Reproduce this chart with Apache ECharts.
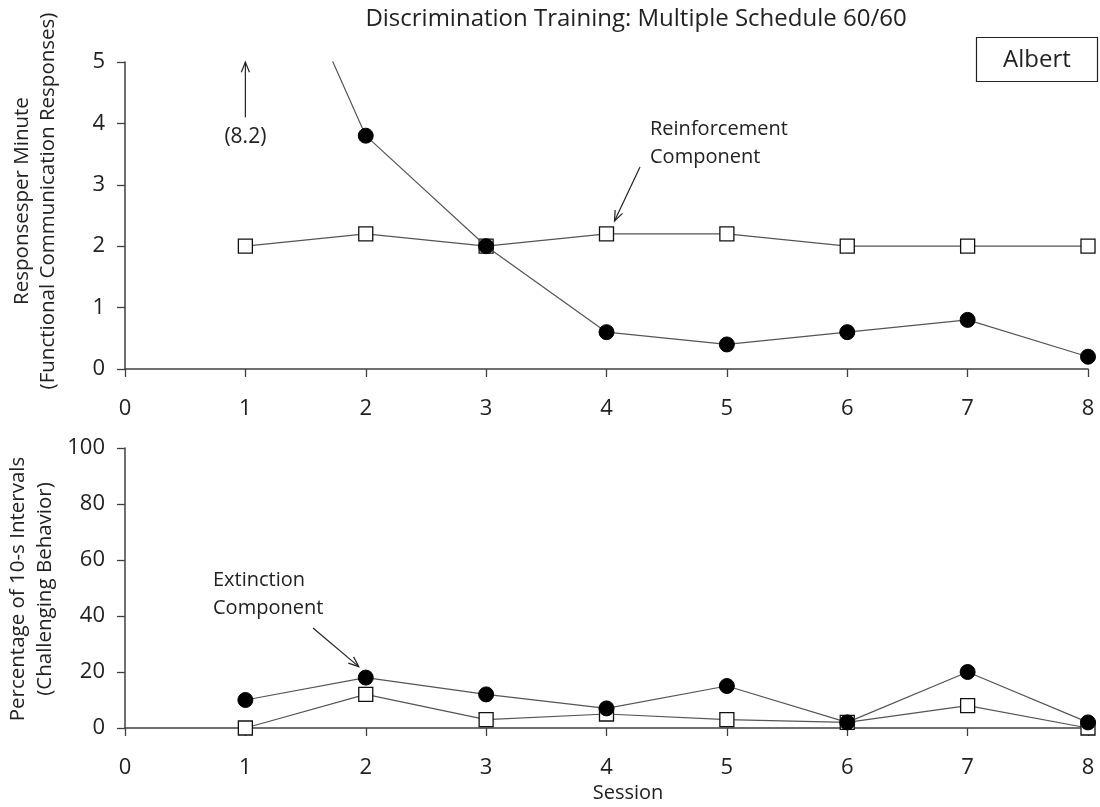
<!DOCTYPE html>
<html><head><meta charset="utf-8">
<script src="https://cdn.jsdelivr.net/npm/echarts@6/dist/echarts.min.js"></script>
<style>html,body{margin:0;padding:0;background:#fff}#c{width:1100px;height:807px}</style>
</head><body><div id="c"></div>
<script>
const sessions = [1,2,3,4,5,6,7,8];
const topCircles = [8.2,3.8,2.0,0.6,0.4,0.6,0.8,0.2];   // Extinction component FCR
const topSquares = [2.0,2.2,2.0,2.2,2.2,2.0,2.0,2.0];   // Reinforcement component FCR
const botCircles = [10,18,12,7,15,2,20,2];
const botSquares = [0,12,3,5,3,2,8,0];
const xTicks = [0,1,2,3,4,5,6,7,8];
const topYTicks = [0,1,2,3,4,5];
const botYTicks = [0,20,40,60,80,100];

const FONT = '"Open Sans", "Noto Sans", sans-serif';
const AX = '#404040';
const LINE = '#555555';

function pairs(xs, ys){ return xs.map((x,i)=>[x, ys[i]]); }

const chart = echarts.init(document.getElementById('c'), null, {renderer:'canvas'});

function xAxis(gi){
  return {gridIndex:gi, type:'value', min:xTicks[0], max:xTicks[xTicks.length-1], interval:1,
    axisLine:{onZero:false, lineStyle:{color:AX, width:1.5}},
    axisTick:{show:true, inside:false, length:8, lineStyle:{color:AX, width:1.3}},
    axisLabel:{fontFamily:FONT, fontSize:22, color:'#222', margin:29},
    splitLine:{show:false}};
}
function yAxis(gi, ticks){
  return {gridIndex:gi, type:'value', min:ticks[0], max:ticks[ticks.length-1], interval:ticks[1]-ticks[0],
    axisLine:{show:true, lineStyle:{color:AX, width:1.5}},
    axisTick:{show:true, length:8, lineStyle:{color:AX, width:1.3}},
    axisLabel:{fontFamily:FONT, fontSize:22, color:'#222', margin:20},
    splitLine:{show:false}};
}
const circleStyle = {symbol:'circle', symbolSize:15, itemStyle:{color:'#000', borderColor:'#000', borderWidth:1}};
const squareStyle = {symbol:'rect', symbolSize:14, itemStyle:{color:'#fff', borderColor:'#111', borderWidth:1.3}};

function lineSeries(xi, yi, data, st, z){
  return Object.assign({type:'line', xAxisIndex:xi, yAxisIndex:yi, data:data, clip:true, z:z,
    lineStyle:{color:LINE, width:1.2}, showAllSymbol:true, animation:false, silent:true}, st);
}

chart.setOption({
  animation:false,
  grid:[
    {left:125, top:62, width:963, height:307},
    {left:125, top:448, width:963, height:280}
  ],
  xAxis:[xAxis(0), xAxis(1)],
  yAxis:[yAxis(0, topYTicks), yAxis(1, botYTicks)],
  series:[
    lineSeries(0,0,pairs(sessions, topSquares), squareStyle, 3),
    lineSeries(0,0,pairs(sessions, topCircles), circleStyle, 4),
    lineSeries(1,1,pairs(sessions, botSquares), squareStyle, 3),
    lineSeries(1,1,pairs(sessions, botCircles), circleStyle, 4)
  ]
});

const p = (gi, x, y) => chart.convertToPixel({gridIndex:gi}, [x, y]);
const txt = (x,y,s,opt) => Object.assign({type:'text', x:x, y:y, style:Object.assign({text:s, fontFamily:FONT, fontSize:20, fill:'#222'}, opt||{})});
function arrow(x1,y1,x2,y2){
  const a = Math.atan2(y2-y1, x2-x1), L=11, w=0.38;
  return [
    {type:'line', shape:{x1:x1,y1:y1,x2:x2,y2:y2}, style:{stroke:'#222', lineWidth:1.2}},
    {type:'polyline', shape:{points:[[x2-L*Math.cos(a-w), y2-L*Math.sin(a-w)],[x2,y2],[x2-L*Math.cos(a+w), y2-L*Math.sin(a+w)]]}, style:{stroke:'#222', lineWidth:1.2, fill:null}}
  ];
}
const a1top = p(0, 1, 5), a1bot = p(0, 1, 4.1);
const rc = p(0, 4, 2.2);
const ec = p(1, 2, 18);
const g = [
  txt(636, 19, 'Discrimination Training: Multiple Schedule 60/60', {align:'center', verticalAlign:'middle', fontSize:24}),
  {type:'rect', shape:{x:976.5, y:37.5, width:121, height:44}, style:{fill:'#fff', stroke:'#222', lineWidth:1.2}},
  txt(1037, 60, 'Albert', {align:'center', verticalAlign:'middle', fontSize:24}),
  ...arrow(a1bot[0], a1bot[1], a1top[0], a1top[1]),
  txt(a1top[0], 137, '(8.2)', {align:'center', verticalAlign:'middle', fontSize:21}),
  txt(650, 129, 'Reinforcement', {align:'left', verticalAlign:'middle'}),
  txt(650, 157, 'Component', {align:'left', verticalAlign:'middle'}),
  ...arrow(640, 167, rc[0]+8, rc[1]-13),
  txt(213, 580, 'Extinction', {align:'left', verticalAlign:'middle'}),
  txt(213, 608, 'Component', {align:'left', verticalAlign:'middle'}),
  ...arrow(313, 628, ec[0]-7, ec[1]-11),
  txt(22, 201, 'Responsesper Minute', {align:'center', verticalAlign:'middle', fontSize:20.5}),
  txt(48, 201, '(Functional Communication Responses)', {align:'center', verticalAlign:'middle', fontSize:20.5}),
  txt(18, 589, 'Percentage of 10-s Intervals', {align:'center', verticalAlign:'middle', fontSize:20.5}),
  txt(45, 589, '(Challenging Behavior)', {align:'center', verticalAlign:'middle', fontSize:20.5}),
  txt(628, 793, 'Session', {align:'center', verticalAlign:'middle'})
];
for (const el of g) {
  if (el.type==='text' && (el.x < 60)) { el.rotation = Math.PI/2; el.originX = 0; el.originY = 0; }
}
chart.setOption({graphic:g});
</script></body></html>
